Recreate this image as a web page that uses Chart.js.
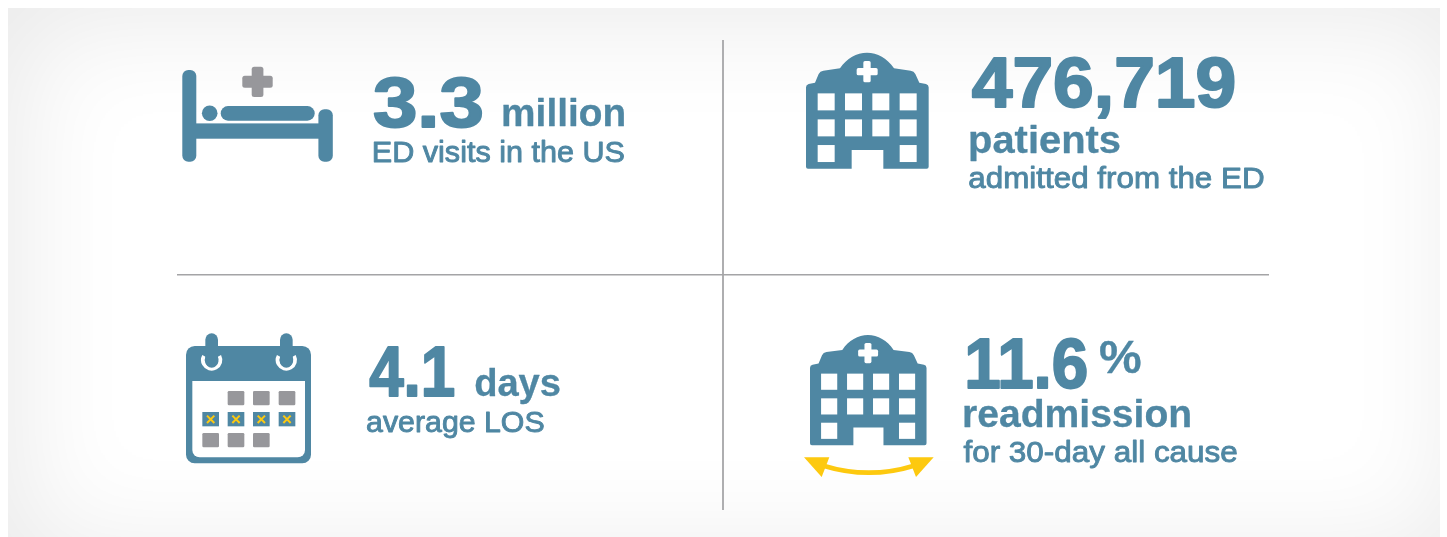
<!DOCTYPE html>
<html>
<head>
<meta charset="utf-8">
<style>
html,body{margin:0;padding:0;background:#fff;overflow:hidden}
#wrap{position:relative;width:1447px;height:537px}
#panel{position:absolute;left:8px;top:8px;width:1432px;height:529px;background:#fff;box-shadow:inset 14px 14px 110px rgba(0,0,0,.085)}
canvas{position:absolute;left:0;top:0}
</style>
</head>
<body>
<div id="wrap"><div id="panel"></div><canvas id="c" width="1447" height="537"></canvas></div>
<script src="https://cdn.jsdelivr.net/npm/chart.js@4"></script>
<script>
// Values
const statValues = [3.3, 476719, 4.1, 11.6];
const statText = ["3.3", "476,719", "4.1", "11.6"];
const statUnits = ["million", "patients", "days", "%"];
const statNotes = ["ED visits in the US", "admitted from the ED", "average LOS", "for 30-day all cause"];
const cellX = [0.5, 1.5, 0.5, 1.5];
const cellY = [1.5, 1.5, 0.5, 0.5];

const BLUE = "#4f87a3", GRAY = "#97979b", YELLOW = "#fdc90f";

// Text layout relative to each quadrant centre: dx, dy (baseline), ink width, size
const layouts = [
  {num:[-77,-29.2,109,71], unit:[53,-30.5,121,38], note:[-76.5,5.6,251.5,29]},
  {num:[-24.3,-49.8,263,71], unit:[-26,-3.4,150,38], note:[-27,31.2,295,29]},
  {num:[-81,4.5,86,71], unit:[25,4.5,85,38], note:[-83.3,40.2,178,29]},
  {num:[-29,-3.8,120,71], unit:[104,-18.8,41,46], note:[-33,70,274,29]}
];
const extraText = {3:{text:"readmission",spec:[-32,35.5,226,38]}};

function rr(ctx,x,y,w,h,r){ctx.beginPath();ctx.roundRect(x,y,w,h,r);ctx.fill();}
function txt(ctx,s,[dx,dy,w],size,weight,stroke){
  ctx.save();
  ctx.font=weight+" "+size+'px "Liberation Sans", Arial, sans-serif';
  ctx.textBaseline="alphabetic";ctx.textAlign="left";
  ctx.fillStyle=BLUE;ctx.strokeStyle=BLUE;ctx.lineJoin="round";
  const m=ctx.measureText(s);
  const ink=m.actualBoundingBoxRight+m.actualBoundingBoxLeft;
  const sx=(w-stroke)/ink;
  ctx.translate(dx+stroke/2,dy);ctx.scale(sx,1);ctx.translate(m.actualBoundingBoxLeft,0);
  ctx.fillText(s,0,0);
  if(stroke){ctx.lineWidth=stroke;ctx.strokeText(s,0,0);}
  ctx.restore();
}

function bed(ctx){ // drawn in px around the quadrant centre
  ctx.save();ctx.translate(-450,-156.5);
  ctx.fillStyle=BLUE;
  rr(ctx,182.3,70,14,91.7,6);
  rr(ctx,318.4,109.3,14.4,52.4,6);
  ctx.fillRect(195,123.4,125,15.3);
  ctx.beginPath();ctx.arc(209.7,113.3,7.8,0,7);ctx.fill();
  rr(ctx,220.7,106,94,14.7,7.3);
  ctx.fillStyle=GRAY;
  rr(ctx,242.3,75.7,30.4,12,2.5);
  rr(ctx,251.7,66.7,11.7,30.3,2.5);
  ctx.restore();
}
function hospital(ctx,ox,oy,k){
  ctx.save();ctx.translate(ox,oy);ctx.scale(k/3,k/3);ctx.translate(-48,-38);
  ctx.fillStyle=BLUE;
  ctx.beginPath();
  ctx.moveTo(48,380);ctx.lineTo(48,142);ctx.quadraticCurveTo(48,134,56,132);ctx.lineTo(75,128);
  ctx.lineTo(86,102);ctx.quadraticCurveTo(90,93,100,92);ctx.lineTo(150,85);
  ctx.bezierCurveTo(170,55,200,38,231,38);ctx.bezierCurveTo(262,38,292,55,312,85);
  ctx.lineTo(362,92);ctx.quadraticCurveTo(372,93,376,102);ctx.lineTo(388,128);
  ctx.lineTo(408,132);ctx.quadraticCurveTo(416,134,416,142);ctx.lineTo(416,380);
  ctx.quadraticCurveTo(416,386,410,386);ctx.lineTo(280,386);ctx.lineTo(280,330);ctx.lineTo(185,330);ctx.lineTo(185,386);
  ctx.lineTo(54,386);ctx.quadraticCurveTo(48,386,48,380);ctx.closePath();ctx.fill();
  ctx.fillStyle="#fff";
  const cols=[83,165,247,329], rows=[160,238];
  rows.forEach(y=>cols.forEach(x=>ctx.fillRect(x,y,51,51)));
  ctx.fillRect(83,315,51,51);ctx.fillRect(329,315,51,51);
  rr(ctx,200,84,63,22,5);rr(ctx,220,63,22,64,5);
  ctx.restore();
}
function arrow(ctx){
  ctx.save();ctx.translate(790-996,325-391.5);ctx.scale(1/3,1/3);
  ctx.fillStyle=YELLOW;ctx.strokeStyle=YELLOW;
  ctx.beginPath();ctx.moveTo(42,397);ctx.lineTo(118,397);ctx.lineTo(95,456);ctx.closePath();ctx.fill();
  ctx.beginPath();ctx.moveTo(355,397);ctx.lineTo(431,397);ctx.lineTo(378,456);ctx.closePath();ctx.fill();
  ctx.lineWidth=14;ctx.beginPath();ctx.moveTo(100,422);ctx.quadraticCurveTo(237,464,372,422);ctx.stroke();
  ctx.restore();
}
function calendar(ctx){
  ctx.save();ctx.translate(170-450,325-391.5);ctx.scale(1/3,1/3);
  ctx.fillStyle=BLUE;rr(ctx,48,63,375,352,26);
  ctx.fillStyle="#fff";
  ctx.beginPath();ctx.roundRect(67,168,338,229,[0,0,22,22]);ctx.fill();
  [125,349].forEach(cx=>{
    ctx.strokeStyle="#fff";ctx.lineWidth=11;
    ctx.beginPath();ctx.arc(cx,105,26.5,-0.5,Math.PI+0.5);ctx.stroke();
    ctx.fillStyle=BLUE;rr(ctx,cx-19,25,38,103,19);
  });
  const cols=[97,173,249,326];
  ctx.fillStyle=GRAY;
  [1,2,3].forEach(i=>rr(ctx,cols[i],198,50,43,4));
  [0,1,2].forEach(i=>rr(ctx,cols[i],324,50,43,4));
  cols.forEach(x=>{
    ctx.fillStyle=BLUE;ctx.fillRect(x,261,50,43);
    ctx.strokeStyle=YELLOW;ctx.lineWidth=6;
    ctx.beginPath();ctx.moveTo(x+14,272);ctx.lineTo(x+36,294);ctx.moveTo(x+36,272);ctx.lineTo(x+14,294);ctx.stroke();
  });
  ctx.restore();
}
const icons=[bed,c=>hospital(c,806-996,52.7-156.5,1),calendar,c=>{hospital(c,810-996,335-391.5,0.95);arrow(c);}];

const infoPlugin={
  id:"info",
  afterDatasetsDraw(chart){
    const ctx=chart.ctx, pts=chart.getDatasetMeta(0).data;
    pts.forEach((p,i)=>{
      ctx.save();ctx.translate(p.x,p.y-1);
      icons[i](ctx);
      const L=layouts[i];
      txt(ctx,statText[i],L.num,L.num[3],"bold",2);
      txt(ctx,statUnits[i],L.unit,L.unit[3],"bold",0.3);
      txt(ctx,statNotes[i],L.note,L.note[3],"normal",0.9);
      if(extraText[i]) txt(ctx,extraText[i].text,extraText[i].spec,extraText[i].spec[3],"bold",0.3);
      ctx.restore();
    });
  }
};
const midLine=c=>c.tick.value===1?"#aeaeb0":"rgba(0,0,0,0)";
new Chart(document.getElementById("c"),{
  type:"scatter",
  data:{datasets:[{
    label:"Statistics",
    data:statValues.map((v,i)=>({x:cellX[i],y:cellY[i],value:v})),
    pointRadius:0
  }]},
  options:{
    responsive:false,animation:false,
    layout:{padding:{left:177,right:178,top:40,bottom:27}},
    plugins:{legend:{display:false},tooltip:{enabled:false},title:{display:false}},
    scales:{
      x:{min:0,max:2,ticks:{stepSize:1,display:false},border:{display:false},grid:{color:midLine,lineWidth:2,drawTicks:false}},
      y:{min:0,max:2,ticks:{stepSize:1,display:false},border:{display:false},grid:{color:c=>c.tick.value===1?"#a4a4a6":"rgba(0,0,0,0)",lineWidth:1.4,drawTicks:false}}
    }
  },
  plugins:[infoPlugin]
});
</script>
</body>
</html>
